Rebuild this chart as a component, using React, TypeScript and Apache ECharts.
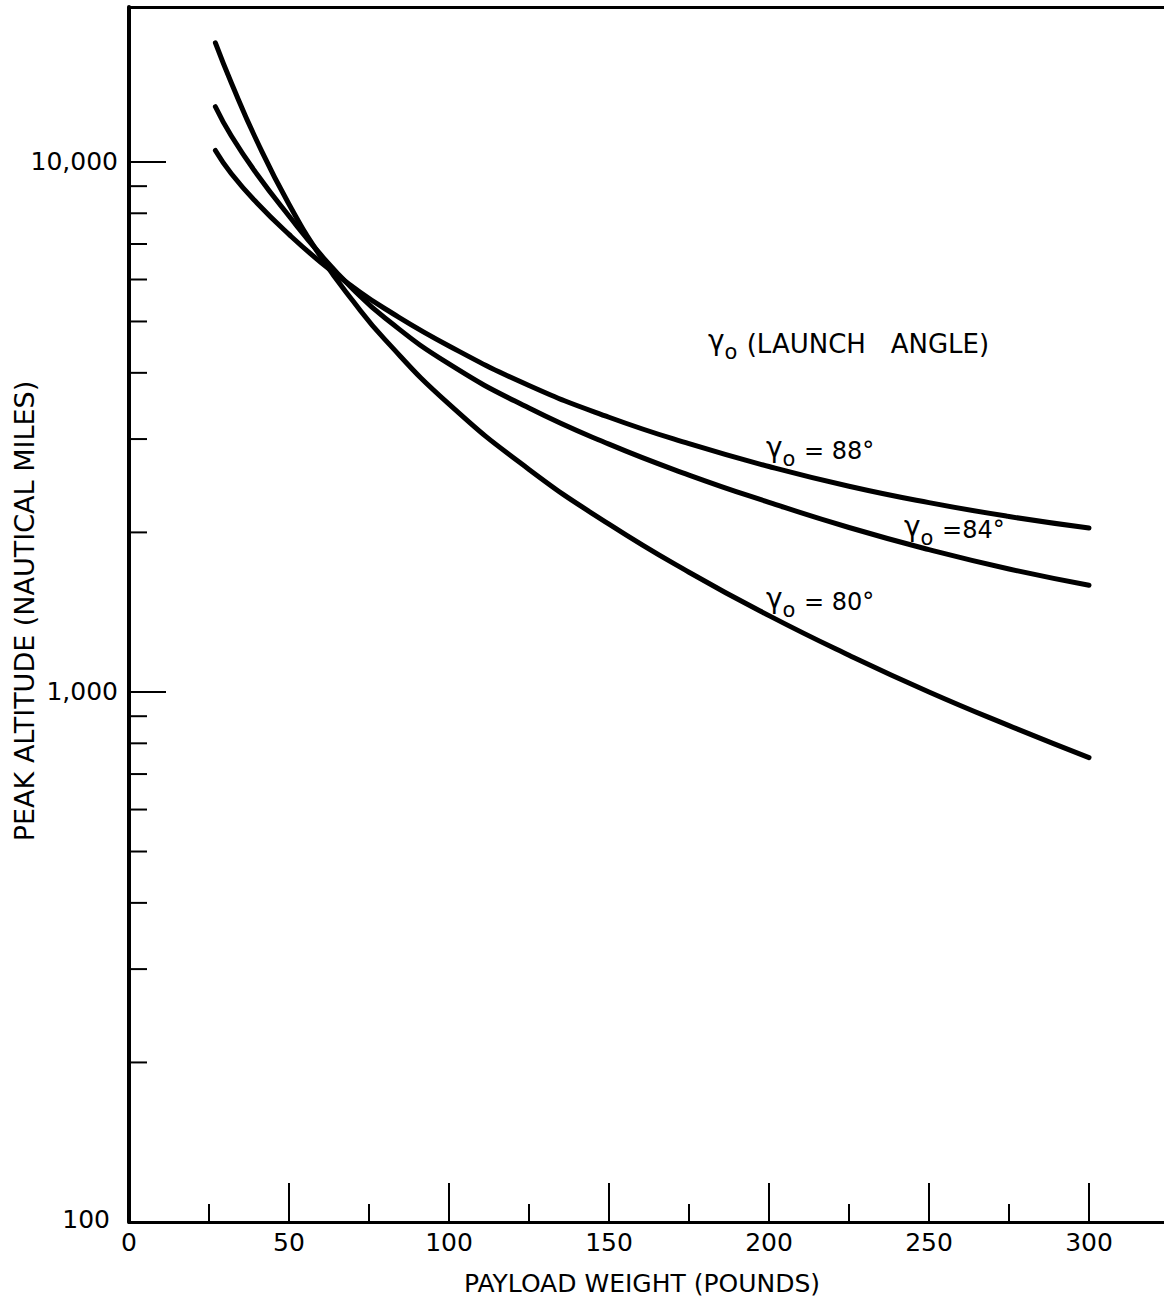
import React, { useEffect, useRef } from 'react';
import * as echarts from 'echarts';

// Payload weight (pounds)
const payload = [27, 32, 40, 50, 60, 70, 80, 100, 125, 150, 175, 200, 225, 250, 275, 300];
// Peak altitude (nautical miles) per launch angle
const alt88 = [10510, 9500, 8366, 7298, 6460, 5807, 5284, 4495, 3787, 3298, 2940, 2663, 2444, 2276, 2143, 2039];
const alt84 = [12710, 11190, 9480, 7906, 6674, 5754, 5074, 4158, 3432, 2934, 2566, 2279, 2043, 1856, 1706, 1590];
const alt80 = [16770, 14090, 10940, 8318, 6612, 5463, 4620, 3491, 2629, 2073, 1682, 1393, 1173, 1000, 864, 752];

const xMajorTicks = [50, 100, 150, 200, 250, 300];
const xMinorTicks = [25, 75, 125, 175, 225, 275];
const yMajorTicks = [1000, 10000];
const yMinorTicks = [200, 300, 400, 500, 600, 700, 800, 900, 2000, 3000, 4000, 5000, 6000, 7000, 8000, 9000];
const yTickLabels: Record<number, string> = { 100: '{p|100}', 1000: '1,000', 10000: '10,000' };

const FONT = 'DejaVu Sans';

export default function App() {
  const ref = useRef<HTMLDivElement>(null);

  useEffect(() => {
    document.body.style.margin = '0';
    if (!ref.current) return;
    const chart = echarts.init(ref.current, undefined, { renderer: 'svg' });

    const curve = (name: string, ys: number[]) => ({
      name,
      type: 'line',
      xAxisIndex: 0,
      yAxisIndex: 0,
      data: payload.map((x, i) => [x, ys[i]]),
      smooth: 0.5,
      symbol: 'none',
      lineStyle: { color: '#000', width: 5, cap: 'round', join: 'round' },
      z: 5,
    });

    const tickSeries = (vals: number[], dir: 'x' | 'y', len: number) => ({
      type: 'custom',
      xAxisIndex: 0,
      yAxisIndex: 0,
      silent: true,
      data: vals.map((v) => (dir === 'x' ? [v, 100] : [0, v])),
      encode: { x: 0, y: 1 },
      renderItem: (params: any, api: any) => {
        const p = api.coord([api.value(0), api.value(1)]);
        const shape =
          dir === 'x'
            ? { x1: p[0], y1: p[1], x2: p[0], y2: p[1] - len }
            : { x1: p[0], y1: p[1], x2: p[0] + len, y2: p[1] };
        return { type: 'line', shape, style: { stroke: '#000', lineWidth: 2 } };
      },
      z: 3,
    });

    const gammaRich = (n: number) => ({
      g: { fontSize: 28, fontFamily: FONT, lineHeight: 20, verticalAlign: 'top', fill: '#000' },
      s: { fontSize: 21, fontFamily: FONT, lineHeight: 33, verticalAlign: 'bottom', fill: '#000', padding: [0, 1, 0, 0] },
      n: { fontSize: n, fontFamily: FONT, lineHeight: 36, verticalAlign: 'middle', fill: '#000' },
    });

    const gammaText = (x: number, y: number, rest: string, n = 24) => ({
      type: 'text',
      x,
      y,
      z: 10,
      style: {
        text: `{g|γ}{s|o}{n|${rest}}`,
        rich: gammaRich(n),
        align: 'left',
        verticalAlign: 'middle',
        fill: '#000',
      },
    });

    chart.setOption({
      animation: false,
      backgroundColor: '#fff',
      grid: { left: 129, top: 7, width: 1040, height: 1215, outerBoundsMode: 'none' },
      xAxis: [
        {
          type: 'value',
          position: 'bottom',
          min: 0,
          max: 325,
          interval: 50,
          axisLine: { show: true, onZero: false, lineStyle: { color: '#000', width: 3 } },
          axisTick: { show: false },
          splitLine: { show: false },
          axisLabel: {
            margin: 8,
            color: '#000',
            fontSize: 25,
            fontFamily: FONT,
            formatter: (v: number) => (v <= 300 ? String(v) : ''),
          },
        },
        {
          type: 'value',
          position: 'top',
          min: 0,
          max: 325,
          axisLine: { show: true, onZero: false, lineStyle: { color: '#000', width: 3 } },
          axisTick: { show: false },
          axisLabel: { show: false },
          splitLine: { show: false },
        },
      ],
      yAxis: {
        type: 'log',
        logBase: 10,
        min: 100,
        max: 19600,
        axisLine: { show: true, onZero: false, lineStyle: { color: '#000', width: 4 } },
        axisTick: { show: false },
        splitLine: { show: false },
        minorTick: { show: false },
        axisLabel: {
          margin: 11,
          color: '#000',
          fontSize: 25,
          fontFamily: FONT,
          formatter: (v: number) => yTickLabels[Math.round(v)] || '',
          rich: {
            p: { fontSize: 25, fontFamily: FONT, color: '#000', padding: [0, 8, 6, 0] },
          },
        },
      },
      series: [
        curve('γo = 88°', alt88),
        curve('γo = 84°', alt84),
        curve('γo = 80°', alt80),
        tickSeries(xMajorTicks, 'x', 39),
        tickSeries(xMinorTicks, 'x', 18),
        tickSeries(yMajorTicks, 'y', 37),
        tickSeries(yMinorTicks, 'y', 18),
      ],
      graphic: [
        {
          type: 'text',
          x: 24,
          y: 611,
          rotation: Math.PI / 2,
          style: {
            text: 'PEAK ALTITUDE (NAUTICAL MILES)',
            align: 'center',
            verticalAlign: 'middle',
            fontSize: 27,
            fontFamily: FONT,
            fill: '#000',
          },
        },
        {
          type: 'text',
          x: 642,
          y: 1283,
          style: {
            text: 'PAYLOAD WEIGHT (POUNDS)',
            align: 'center',
            verticalAlign: 'middle',
            fontSize: 25,
            fontFamily: FONT,
            fill: '#000',
          },
        },
        gammaText(708, 344, ' (LAUNCH   ANGLE)', 26),
        gammaText(766, 451, ' = 88°'),
        gammaText(904, 530, ' =84°'),
        gammaText(766, 602, ' = 80°'),
      ],
    });

    return () => chart.dispose();
  }, []);

  return <div ref={ref} style={{ width: 1164, height: 1305 }} />;
}
